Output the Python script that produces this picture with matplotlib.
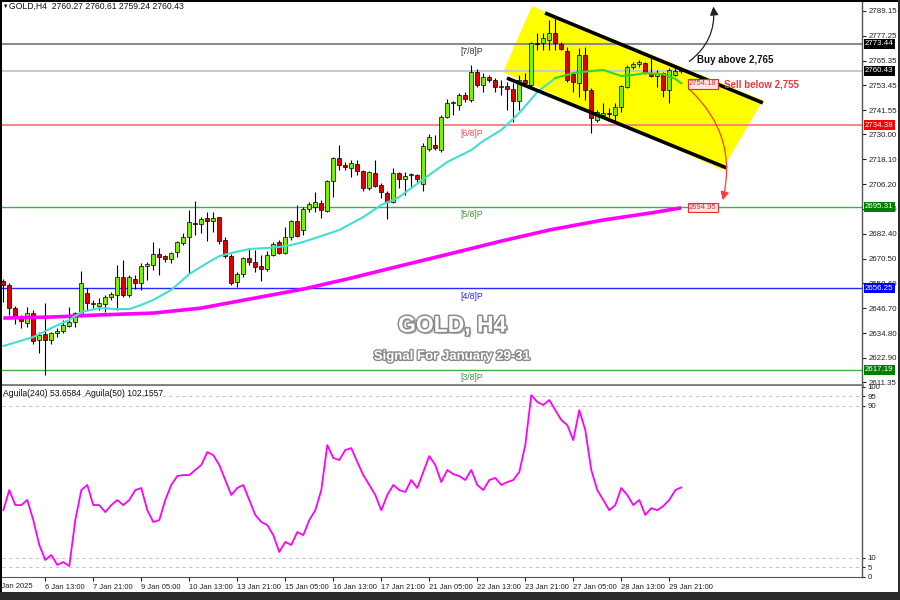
import numpy as np
import matplotlib
matplotlib.use('Agg')
import matplotlib.pyplot as plt
from matplotlib.patches import Polygon, FancyArrowPatch, Rectangle
import matplotlib.patheffects as pe
import matplotlib.transforms as mtransforms

# ---------------- data ----------------
opens = [2659.8, 2657.8, 2646.8, 2642.0, 2639.6, 2644.4, 2631.5, 2634.4, 2631.5, 2634.8,
         2635.8, 2638.2, 2640.1, 2643.9, 2654.0, 2648.8, 2647.8, 2648.7, 2652.1, 2653.1,
         2661.7, 2653.1, 2660.7, 2658.8, 2666.9, 2667.4, 2672.7, 2671.7, 2670.3, 2673.7,
         2678.0, 2680.9, 2687.4, 2687.0, 2689.9, 2688.5, 2690.4, 2679.4, 2671.7, 2659.3,
         2663.1, 2670.8, 2668.9, 2667.0, 2665.5, 2672.2, 2678.5, 2673.2, 2680.9, 2688.5,
         2684.2, 2694.3, 2695.2, 2697.1, 2693.3, 2707.7, 2718.7, 2715.4, 2713.9, 2715.8,
         2712.5, 2704.3, 2711.5, 2705.8, 2701.9, 2697.6, 2711.5, 2708.6, 2710.6, 2710.6,
         2706.3, 2722.9, 2725.0, 2722.5, 2738.4, 2745.1, 2744.1, 2748.9, 2746.5, 2759.9,
         2753.7, 2757.5, 2756.1, 2752.7, 2753.2, 2751.8, 2746.0, 2756.1, 2753.7, 2773.8,
         2773.8, 2775.3, 2778.6, 2773.3, 2770.0, 2758.9, 2754.6, 2768.1, 2751.3, 2736.9,
         2739.3, 2740.3, 2739.3, 2743.1, 2752.7, 2762.3, 2763.8, 2764.2, 2759.4, 2758.0,
         2759.4, 2751.3, 2758.5, 2760.27]
highs = [2660.7, 2658.8, 2647.8, 2643.5, 2647.3, 2645.9, 2635.3, 2649.2, 2635.3, 2637.3,
         2641.1, 2647.3, 2644.9, 2664.6, 2656.4, 2650.7, 2651.6, 2653.1, 2654.5, 2667.4,
         2669.8, 2662.7, 2662.7, 2668.4, 2668.9, 2678.5, 2675.6, 2672.2, 2673.7, 2678.9,
         2682.8, 2693.8, 2698.1, 2690.4, 2692.8, 2692.8, 2690.6, 2680.9, 2672.7, 2664.1,
         2671.3, 2675.6, 2674.6, 2672.2, 2674.1, 2678.5, 2679.4, 2685.6, 2689.0, 2696.2,
         2695.2, 2697.6, 2702.4, 2698.6, 2708.2, 2719.2, 2724.9, 2716.8, 2717.7, 2717.7,
         2712.9, 2712.5, 2717.7, 2706.7, 2702.9, 2713.9, 2712.0, 2712.0, 2711.5, 2711.0,
         2725.9, 2730.2, 2729.7, 2739.3, 2747.0, 2746.0, 2749.9, 2750.3, 2763.3, 2761.4,
         2759.4, 2758.5, 2757.0, 2756.1, 2755.1, 2754.6, 2758.5, 2759.4, 2774.3, 2778.6,
         2778.6, 2784.8, 2785.8, 2774.3, 2771.9, 2759.9, 2771.4, 2771.9, 2752.3, 2741.7,
         2745.1, 2742.7, 2745.1, 2753.7, 2763.3, 2764.7, 2765.7, 2764.7, 2766.6, 2760.9,
         2759.9, 2761.8, 2762.3, 2760.61]
lows = [2649.7, 2643.5, 2639.2, 2637.3, 2637.7, 2629.6, 2625.3, 2614.7, 2629.6, 2632.9,
        2634.8, 2637.7, 2637.7, 2642.5, 2645.9, 2646.8, 2645.9, 2644.9, 2650.7, 2645.9,
        2652.1, 2652.1, 2655.9, 2655.5, 2660.3, 2665.0, 2662.6, 2668.9, 2668.4, 2671.3,
        2677.0, 2663.6, 2681.8, 2682.8, 2678.9, 2683.3, 2677.5, 2670.8, 2657.9, 2656.9,
        2661.7, 2667.4, 2664.1, 2659.8, 2664.6, 2671.7, 2672.7, 2672.7, 2679.4, 2680.8,
        2681.8, 2692.8, 2692.8, 2690.0, 2692.8, 2700.0, 2712.9, 2712.9, 2709.6, 2710.6,
        2702.9, 2703.4, 2704.8, 2699.5, 2689.5, 2697.1, 2704.3, 2701.0, 2704.3, 2707.2,
        2702.9, 2722.0, 2722.5, 2721.6, 2737.9, 2739.3, 2741.7, 2745.6, 2745.6, 2752.7,
        2750.3, 2755.1, 2750.3, 2748.9, 2741.7, 2735.9, 2741.7, 2753.7, 2752.7, 2770.5,
        2770.5, 2770.5, 2770.5, 2770.5, 2755.1, 2750.3, 2747.9, 2746.5, 2730.7, 2735.9,
        2738.4, 2738.4, 2736.0, 2740.8, 2752.3, 2761.4, 2762.3, 2758.9, 2757.5, 2752.7,
        2747.9, 2745.1, 2758.0, 2759.24]
closes = [2657.8, 2646.8, 2642.0, 2640.6, 2644.4, 2631.0, 2633.9, 2631.5, 2634.8, 2635.8,
          2638.7, 2640.1, 2644.4, 2658.8, 2649.2, 2649.2, 2649.2, 2652.1, 2653.5, 2661.7,
          2653.1, 2661.7, 2658.8, 2666.9, 2667.9, 2672.7, 2671.3, 2670.3, 2673.2, 2678.5,
          2680.9, 2688.0, 2687.0, 2689.5, 2688.5, 2689.9, 2678.9, 2671.7, 2658.8, 2663.1,
          2670.8, 2668.9, 2666.5, 2665.5, 2672.2, 2677.5, 2673.2, 2680.9, 2688.5, 2681.3,
          2694.3, 2696.7, 2697.6, 2693.8, 2707.7, 2718.7, 2715.4, 2714.4, 2716.3, 2712.5,
          2704.3, 2712.0, 2705.3, 2702.4, 2697.6, 2711.5, 2708.6, 2710.1, 2710.8, 2708.6,
          2724.5, 2728.8, 2723.5, 2738.4, 2745.1, 2745.4, 2748.9, 2747.0, 2759.9, 2753.7,
          2757.5, 2756.1, 2752.7, 2753.2, 2751.8, 2746.0, 2756.1, 2754.6, 2773.8, 2773.4,
          2776.2, 2778.6, 2773.8, 2770.9, 2756.1, 2755.1, 2768.1, 2751.3, 2737.9, 2740.8,
          2740.3, 2739.9, 2743.1, 2753.2, 2762.3, 2763.8, 2764.7, 2759.4, 2758.0, 2759.4,
          2751.3, 2760.9, 2760.3, 2760.43]

# moving averages read at a few bars
ma_fast_idx = [0, 5, 8, 11, 13, 16, 19, 21, 23, 25, 28, 31, 34, 36, 38, 41, 44, 46, 48, 50,
               53, 56, 60, 63, 66, 68, 71, 74, 78, 80, 83, 86, 89, 92]
ma_fast_val = [2628.6, 2632.9, 2637.2, 2641.1, 2644.9, 2646.8, 2646.3, 2646.3, 2648.3, 2650.7,
               2655.5, 2663.1, 2668.4, 2671.7, 2673.2, 2675.1, 2675.6, 2676.1, 2677.0, 2678.5,
               2681.3, 2684.2, 2690.4, 2696.2, 2700.0, 2704.3, 2710.6, 2716.8, 2722.5, 2726.9,
               2732.1, 2740.3, 2750.3, 2757.0]
ma_fast2_idx = [92, 95, 98, 100, 103, 105, 107, 110, 112, 113]
ma_fast2_val = [2757.0, 2759.4, 2760.4, 2760.9, 2758.0, 2758.5, 2759.4, 2758.9, 2756.6, 2754.5]
ma_slow_idx = [0, 8, 16, 25, 33, 41, 50, 58, 66, 75, 83, 91, 100, 108, 113]
ma_slow_val = [2642.0, 2642.5, 2643.5, 2644.4, 2646.8, 2651.1, 2655.9, 2661.2, 2666.9, 2673.2,
               2678.9, 2684.2, 2689.0, 2692.4, 2694.8]

# oscillator (lower panel)
osc = [35, 45.6, 37.7, 37.7, 40.4, 29.8, 16.7, 8.8, 11.4, 6.2, 7.7, 5.6, 29.8, 45.6, 48.3,
       37.7, 37.7, 34, 37.7, 40.4, 37.7, 40.4, 45.6, 46.7, 35, 28.8, 29.8, 40.4, 48.3, 53,
       53.5, 53.5, 56.2, 58.8, 65.6, 64, 58.8, 50.9, 43, 46.7, 48.3, 40.4, 32.5, 28.8, 27.2,
       21.9, 13, 18.3, 16.7, 23.5, 21.9, 29.8, 35, 45.6, 69.3, 62.5, 61.4, 66.7, 67.7, 60.4,
       53.5, 48.3, 43, 35, 43, 48.3, 45.6, 44.6, 50.9, 46.7, 55.1, 63.5, 58.8, 49.8, 56.2,
       54, 53, 50.9, 56.2, 48.3, 45.6, 50.9, 52, 48.3, 49.8, 50.9, 55.1, 69.3, 95.6, 92,
       90.4, 93, 87.7, 82.5, 79.8, 71.9, 87.7, 77.2, 56.2, 45.6, 40.4, 35, 37.7, 46.7, 43,
       37.7, 40.4, 32.5, 36.1, 35, 37.2, 40.4, 45.6, 47]

price_ticks = [2789.15, 2777.25, 2765.35, 2753.45, 2741.55, 2730.00, 2718.10, 2706.20,
               2694.30, 2682.40, 2670.50, 2658.60, 2646.70, 2634.80, 2622.90, 2611.35]
levels = [2773.44, 2734.38, 2695.31, 2656.25, 2617.19]
level_names = ['[7/8]P', '[6/8]P', '[5/8]P', '[4/8]P', '[3/8]P']
last_price = 2760.43
date_idx = [7, 15, 23, 31, 39, 47, 55, 63, 71, 79, 87, 95, 103, 111]
date_labels = ['6 Jan 13:00', '7 Jan 21:00', '9 Jan 05:00', '10 Jan 13:00', '13 Jan 21:00',
               '15 Jan 05:00', '16 Jan 13:00', '17 Jan 21:00', '21 Jan 05:00', '22 Jan 13:00',
               '23 Jan 21:00', '27 Jan 05:00', '28 Jan 13:00', '29 Jan 21:00']
osc_ticks = [100, 95, 90, 10, 5, 0]

# ---------------- figure ----------------
plt.rcParams['font.family'] = ['Liberation Sans', 'DejaVu Sans']
fig = plt.figure(figsize=(9, 6), dpi=100)
W, H = 900.0, 600.0
ax = fig.add_axes([2 / W, 1 - 385 / H, 860 / W, 383 / H])
ax2 = fig.add_axes([2 / W, 1 - 577 / H, 860 / W, 191 / H])

xmin, xmax = -0.217, 143.12
ax.set_xlim(xmin, xmax)
ax.set_ylim(2609.93, 2793.46)
ax2.set_xlim(xmin, xmax)
ax2.set_ylim(-0.16, 100.4)

for a in (ax, ax2):
    a.spines['top'].set_visible(False)
    a.spines['left'].set_visible(False)
    a.spines['right'].set_color('#555555')
    a.spines['right'].set_linewidth(1.0)
ax.spines['bottom'].set_color('#7a7a7a')
ax.spines['bottom'].set_linewidth(2.0)
ax2.spines['bottom'].set_color('#555555')

# yellow channel box
ax.add_patch(Polygon([(83.3, 2759.9), (88.1, 2791.5), (126.6, 2746.5), (119.8, 2713.0)],
                     closed=True, fc='#FFFF00', ec='none', zorder=1, clip_on=False))

# horizontal levels
lvl_line_colors = ['#8C8C8C', '#FF7B7B', '#3CB043', '#2828FF', '#3CB043']
lvl_text_colors = ['#333333', '#FF4A4A', '#2E9E2E', '#2020FF', '#2E9E2E']
lvl_lw = [1.5, 1.3, 1.0, 1.0, 1.0]
for lv, nm, lc, tc, lw in zip(levels, level_names, lvl_line_colors, lvl_text_colors, lvl_lw):
    ax.axhline(lv, color=lc, lw=lw, zorder=2)
    ax.text(78, lv - 1.6, nm, color=tc, fontsize=6.2, ha='center', va='top', zorder=2.2)
ax.axhline(last_price, color='#C4CAD2', lw=1.5, zorder=2)

# candles
idx = np.arange(len(opens))
o = np.array(opens); h = np.array(highs); l = np.array(lows); c = np.array(closes)
ax.vlines(idx, l, h, color='black', lw=0.8, zorder=3)
up = c >= o
body_bottom = np.minimum(o, c)
body_h = np.maximum(np.abs(c - o), 0.45)
ax.bar(idx[up], body_h[up], bottom=body_bottom[up], width=0.72, color='#7CF000',
       edgecolor='black', linewidth=0.5, zorder=3.5)
ax.bar(idx[~up], body_h[~up], bottom=body_bottom[~up], width=0.72, color='#E00000',
       edgecolor='black', linewidth=0.5, zorder=3.5)

# moving averages
ax.plot(ma_slow_idx, ma_slow_val, color='#FF00FF', lw=2.6, zorder=4, solid_capstyle='butt')
ax.plot(ma_fast_idx, ma_fast_val, color='#40E0D0', lw=1.5, zorder=4)
ax.plot(ma_fast2_idx, ma_fast2_val, color='#33D633', lw=1.5, zorder=4)

# channel lines
ax.plot([90.3, 126.6], [2788.2, 2745.1], color='black', lw=2.6, zorder=5,
        solid_capstyle='butt', clip_on=False)
ax.plot([83.95, 120.6], [2757.0, 2713.9], color='black', lw=2.6, zorder=5,
        solid_capstyle='butt', clip_on=False)

# arrows
ax.add_patch(FancyArrowPatch((113.95, 2764.2), (118.3, 2792.6),
                             connectionstyle='arc3,rad=0.3', arrowstyle='-|>,head_length=5,head_width=2.5',
                             color='#222222', lw=0.9, zorder=6, clip_on=False))
ax.add_patch(FancyArrowPatch((114.1, 2752.3), (119.8, 2697.2),
                             connectionstyle='arc3,rad=-0.3', arrowstyle='-|>,head_length=5,head_width=2.5',
                             color='#FF3B3B', lw=0.9, zorder=6, clip_on=False))

ax.text(115.6, 2765.9, 'Buy above 2,765', fontsize=7, fontweight='bold', color='#111111',
        ha='left', va='center', zorder=7)
ax.text(120.1, 2753.7, 'Sell below 2,755', fontsize=7, fontweight='bold', color='#E8383C',
        ha='left', va='center', zorder=7)
for val, lbl in [(2754.2, '2754.18'), (2694.95, '2694.95')]:
    ax.text(116.6, val, lbl, fontsize=5.5, color='#E03030', ha='center', va='center', zorder=7,
            bbox=dict(boxstyle='square,pad=0.15', fc='#FFE4E4', ec='#E03030', lw=0.8))

# center watermark texts
ax.text(74.8, 2638.5, 'GOLD, H4', fontsize=16.5, fontweight='bold', color='white',
        ha='center', va='center', zorder=7,
        path_effects=[pe.withSimplePatchShadow(offset=(1.5, -1.5), shadow_rgbFace='#aaaaaa', alpha=0.8),
                      pe.Stroke(linewidth=2.2, foreground='#8a8a8a'), pe.Normal()])
ax.text(74.8, 2623.5, 'Signal For January 29-31', fontsize=9.5, fontweight='bold', color='white',
        ha='center', va='center', zorder=7,
        path_effects=[pe.Stroke(linewidth=2.0, foreground='#8a8a8a'), pe.Normal()])

# price axis
ax.yaxis.tick_right()
ax.set_yticks(price_ticks)
ax.set_yticklabels(['%.2f' % v for v in price_ticks])
ax.tick_params(axis='y', length=3, width=0.8, pad=1.5, labelsize=5.7, colors='#222222')
ax.set_xticks([])

trans = mtransforms.blended_transform_factory(ax.transAxes, ax.transData)
box_specs = [(2773.44, 'black'), (last_price, 'black'), (2734.38, '#FF0000'),
             (2695.31, '#008000'), (2656.25, '#0000FF'), (2617.19, '#008000')]
for val, col in box_specs:
    ax.text(1.0 + 3 / 860, val, '%.2f' % val, transform=trans, fontsize=5.7, color='white',
            ha='left', va='center', zorder=10, clip_on=False,
            bbox=dict(boxstyle='square,pad=0.18', fc=col, ec='none'))

# header texts
fig.text(3 / W, 1 - 6 / H, '▼', fontsize=4, ha='left', va='center')
fig.text(9 / W, 1 - 6 / H, 'GOLD,H4  2760.27 2760.61 2759.24 2760.43', fontsize=6.2,
         ha='left', va='center', color='#111111')

# lower panel
ax2.plot(np.arange(len(osc)), osc, color='#FF00FF', lw=1.3, zorder=3)
for lv in (95, 90, 10, 5):
    ax2.axhline(lv, color='#C8C8C8', lw=0.8, ls=(0, (3, 3)), zorder=1)
ax2.yaxis.tick_right()
ax2.set_yticks(osc_ticks)
ax2.set_yticklabels([str(v) for v in osc_ticks])
ax2.tick_params(axis='y', length=2, pad=2, labelsize=5.7, colors='#222222')
ax2.set_xticks(date_idx)
ax2.set_xticklabels(date_labels, ha='left')
ax2.tick_params(axis='x', length=3, width=0.8, pad=2, labelsize=5.5, colors='#222222')
ax2.text(1 / 860, 0.985, 'Aguila(240) 53.6584  Aguila(50) 102.1557', transform=ax2.transAxes,
         fontsize=6.2, ha='left', va='top', color='#111111')
fig.text(-5 / W, 1 - 586 / H, '2 Jan 2025', fontsize=5.5, ha='left', va='center', color='#222222')

# frame
fig.add_artist(Rectangle((0, 1 - 1.5 / H), 1, 1.5 / H, transform=fig.transFigure, fc='black', ec='none'))
fig.add_artist(Rectangle((0, 0), 2 / W, 1, transform=fig.transFigure, fc='black', ec='none'))
fig.add_artist(Rectangle((0, 0), 1, 8 / H, transform=fig.transFigure, fc='#2a2a2a', ec='none'))
fig.add_artist(Rectangle((1 - 2 / W, 0), 2 / W, 1, transform=fig.transFigure, fc='#2a2a2a', ec='none'))

fig.savefig('out.png', dpi=100)
